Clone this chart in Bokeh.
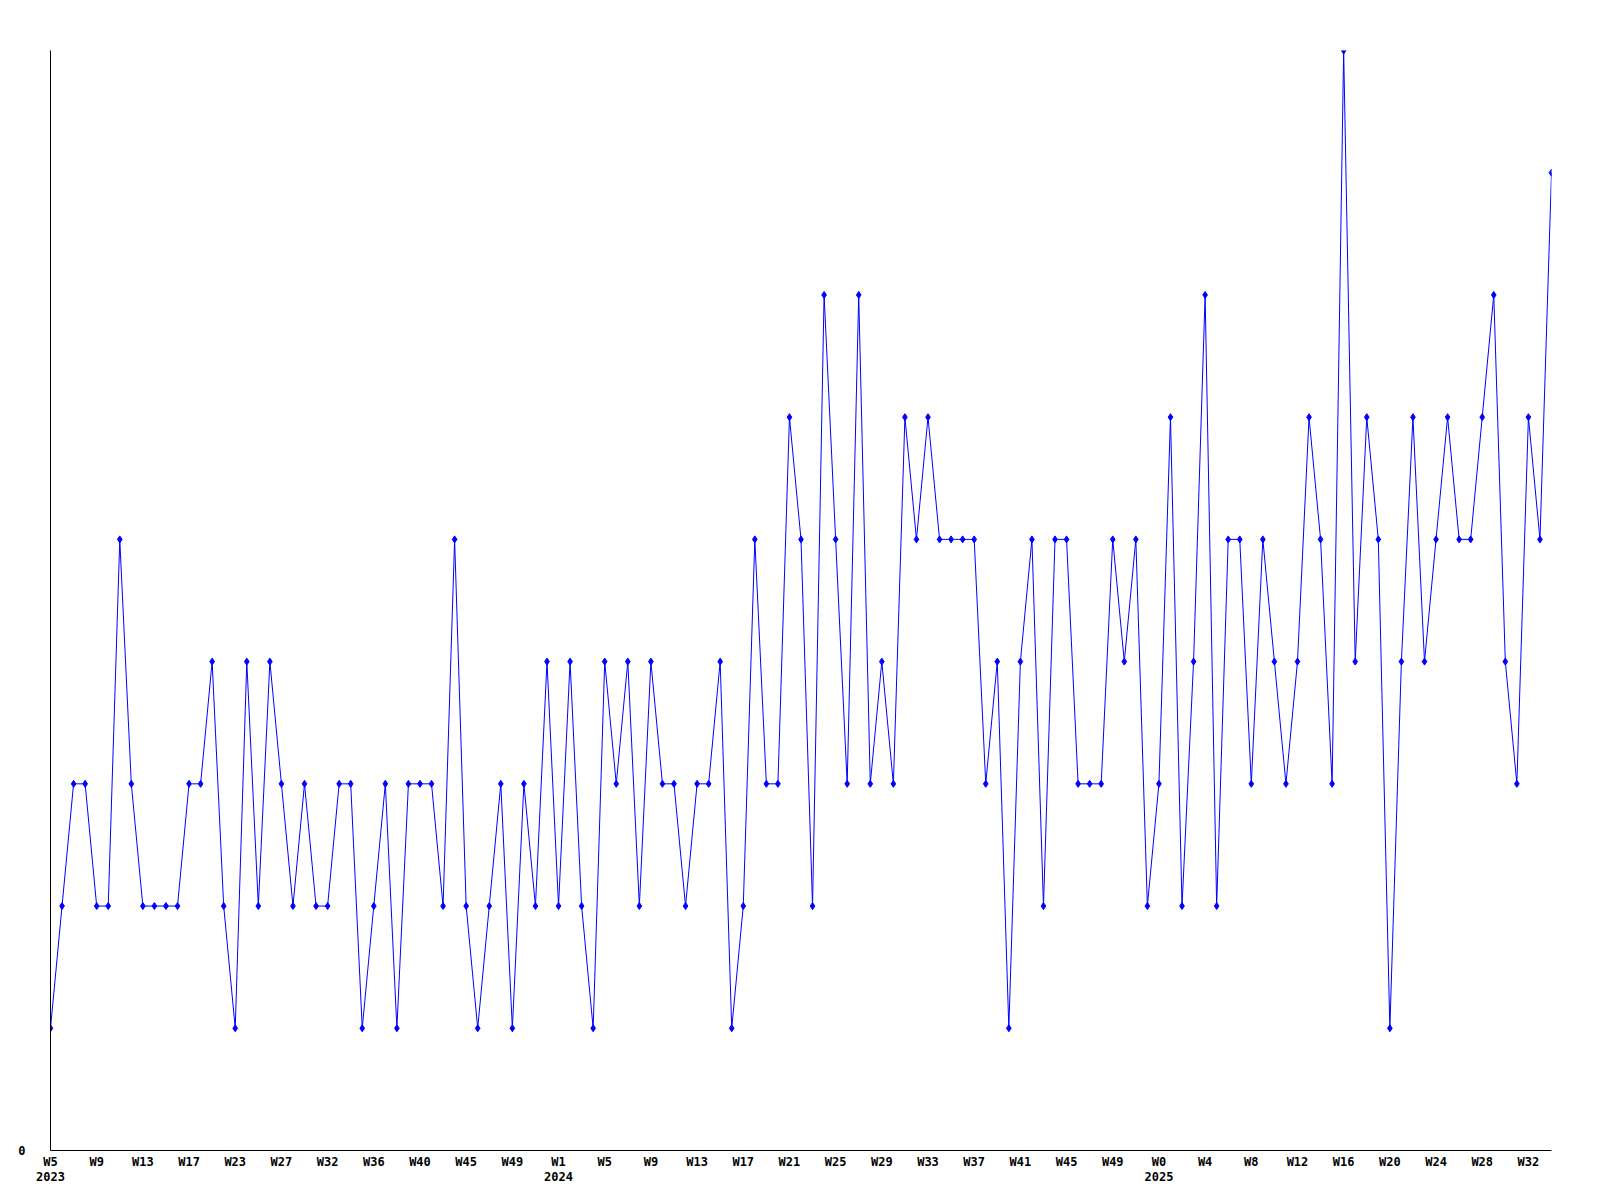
from bokeh.plotting import figure
from bokeh.models import FixedTicker, LinearAxis, Range1d
from bokeh.embed import file_html
from bokeh.resources import INLINE

values = [1, 2, 3, 3, 2, 2, 5, 3, 2, 2, 2, 2, 3, 3, 4, 2, 1, 4, 2, 4,
          3, 2, 3, 2, 2, 3, 3, 1, 2, 3, 1, 3, 3, 3, 2, 5, 2, 1, 2, 3,
          1, 3, 2, 4, 2, 4, 2, 1, 4, 3, 4, 2, 4, 3, 3, 2, 3, 3, 4, 1,
          2, 5, 3, 3, 6, 5, 2, 7, 5, 3, 7, 3, 4, 3, 6, 5, 6, 5, 5, 5,
          5, 3, 4, 1, 4, 5, 2, 5, 5, 3, 3, 3, 5, 4, 5, 2, 3, 6, 2, 4,
          7, 2, 5, 5, 3, 5, 4, 3, 4, 6, 5, 3, 9, 4, 6, 5, 1, 4, 6, 4,
          5, 6, 5, 5, 6, 7, 4, 3, 6, 5, 8]

week_labels = ["W5", "W9", "W13", "W17", "W23", "W27", "W32", "W36", "W40", "W45",
               "W49", "W1", "W5", "W9", "W13", "W17", "W21", "W25", "W29", "W33",
               "W37", "W41", "W45", "W49", "W0", "W4", "W8", "W12", "W16", "W20",
               "W24", "W28", "W32"]
week_step = 4
year_labels = ["2023", "2024", "2025"]
year_label_index = [0, 11, 24]   # index into week_labels where each year starts

x = list(range(len(values)))
ymax = max(values)

FONT = "DejaVu Sans Mono"
FSIZE = "12px"

p = figure(frame_width=1501, frame_height=1100,
           min_border_left=50, min_border_right=41,
           min_border_top=50, min_border_bottom=40,
           x_range=Range1d(0, len(values) - 1), y_range=Range1d(0, ymax),
           output_backend="svg", toolbar_location=None,
           x_axis_location=None, y_axis_location=None)
p.background_fill_color = "white"
p.border_fill_color = "white"
p.outline_line_color = None
p.xgrid.visible = False
p.ygrid.visible = False

week_ticks = [i * week_step for i in range(len(week_labels))]

xa = LinearAxis(ticker=FixedTicker(ticks=week_ticks),
                major_label_overrides={t: l for t, l in zip(week_ticks, week_labels)})
xa.axis_line_color = "black"
xa.axis_line_width = 1
xa.major_tick_line_color = None
xa.minor_tick_line_color = None
xa.major_tick_out = 0
xa.major_tick_in = 0
xa.major_label_standoff = 4
xa.major_label_text_font = FONT
xa.major_label_text_font_style = "bold"
xa.major_label_text_font_size = FSIZE
xa.major_label_text_color = "black"
p.add_layout(xa, "below")

year_ticks = [week_ticks[i] for i in year_label_index]
ya2 = LinearAxis(ticker=FixedTicker(ticks=year_ticks),
                 major_label_overrides={t: l for t, l in zip(year_ticks, year_labels)})
ya2.axis_line_color = None
ya2.major_tick_line_color = None
ya2.minor_tick_line_color = None
ya2.major_tick_out = 0
ya2.major_tick_in = 0
ya2.major_label_standoff = 0
ya2.major_label_text_font = FONT
ya2.major_label_text_font_style = "bold"
ya2.major_label_text_font_size = FSIZE
ya2.major_label_text_color = "black"
p.add_layout(ya2, "below")

yaxis = LinearAxis(ticker=FixedTicker(ticks=[0]))
yaxis.axis_line_color = "black"
yaxis.axis_line_width = 1
yaxis.major_tick_line_color = None
yaxis.minor_tick_line_color = None
yaxis.major_tick_out = 0
yaxis.major_tick_in = 0
yaxis.major_label_standoff = 25
yaxis.major_label_text_font = FONT
yaxis.major_label_text_font_style = "bold"
yaxis.major_label_text_font_size = FSIZE
yaxis.major_label_text_color = "black"
p.add_layout(yaxis, "left")

p.line(x, values, line_color="#0000ff", line_width=1)
p.scatter(x, values, marker="diamond", size=7, fill_color="#0000ff",
          line_color="#0000ff", line_width=1)

open("out.html", "w").write(file_html(p, INLINE))
